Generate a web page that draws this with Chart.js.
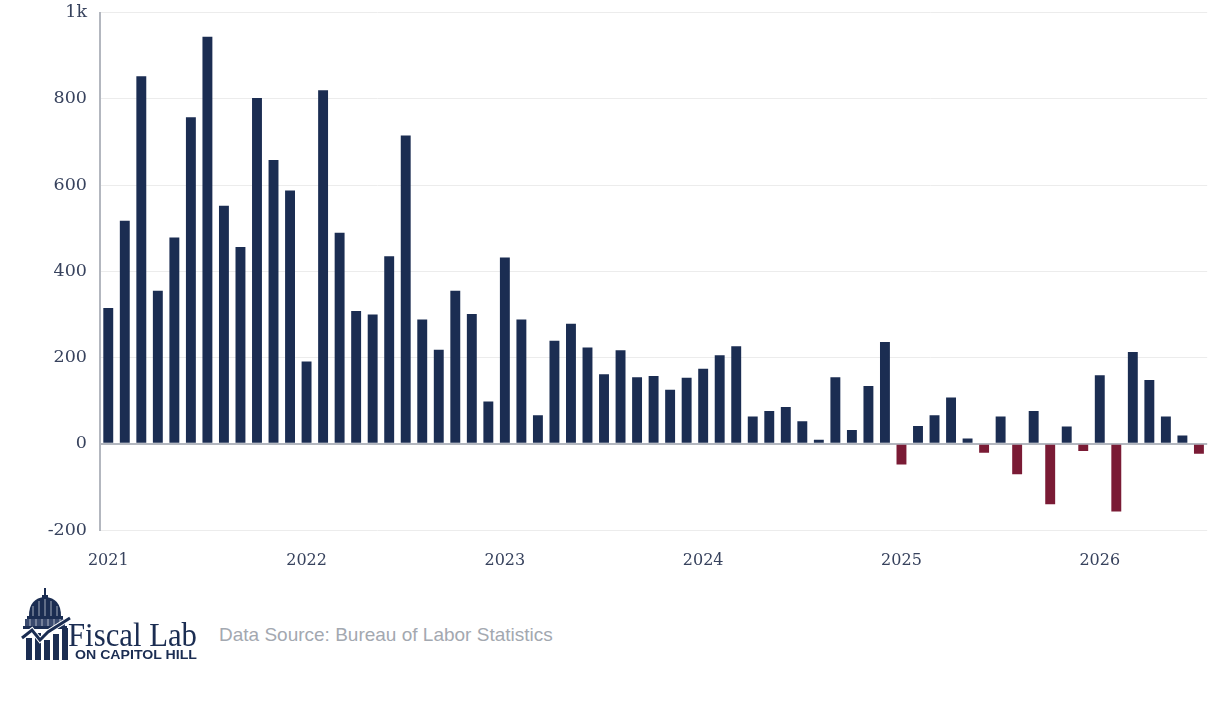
<!DOCTYPE html>
<html>
<head>
<meta charset="utf-8">
<script src="https://cdn.jsdelivr.net/npm/chart.js@4.4.0/dist/chart.umd.min.js"></script>
<style>
  html, body { margin: 0; padding: 0; background: #ffffff; width: 1220px; height: 716px; overflow: hidden; }
  #wrap { position: absolute; left: 0; top: -11px; width: 1220px; height: 601px; }
  #logo { position: absolute; left: 18px; top: 586px; }
  #source { position: absolute; left: 219px; top: 624px; font-family: "Liberation Sans", Arial, sans-serif; font-size: 19px; color: #a3a8b0; white-space: nowrap; }
</style>
</head>
<body>
<div id="wrap"><canvas id="c" width="1220" height="601"></canvas></div>
<svg id="logo" width="190" height="80" viewBox="0 0 190 80">
  <g fill="#1b2d52" stroke="none">
    <rect x="26" y="2" width="2" height="8"/>
    <rect x="24" y="9" width="6" height="3"/>
    <path d="M11 30 Q11 12 27 11 Q43 12 43 30 Z"/>
    <rect x="9" y="30" width="36" height="3"/>
    <rect x="7" y="33" width="40" height="7" fill="#3a4a6e"/>
    <rect x="5" y="40" width="44" height="3"/>
    <rect x="8" y="52" width="6" height="22"/>
    <rect x="17" y="47" width="6" height="27"/>
    <rect x="26" y="54" width="6" height="20"/>
    <rect x="35" y="48" width="6" height="26"/>
    <rect x="44" y="42" width="6" height="32"/>
  </g>
  <g stroke="#ffffff" stroke-width="1" opacity="0.6">
    <line x1="15" y1="20" x2="15" y2="30"/><line x1="21" y1="15" x2="21" y2="30"/><line x1="27" y1="13" x2="27" y2="30"/><line x1="33" y1="15" x2="33" y2="30"/><line x1="39" y1="20" x2="39" y2="30"/>
    <line x1="12" y1="33" x2="12" y2="40"/><line x1="18" y1="33" x2="18" y2="40"/><line x1="24" y1="33" x2="24" y2="40"/><line x1="30" y1="33" x2="30" y2="40"/><line x1="36" y1="33" x2="36" y2="40"/><line x1="42" y1="33" x2="42" y2="40"/>
  </g>
  <polyline points="4,52 14,44 22,54 30,46 52,32" fill="none" stroke="#ffffff" stroke-width="5"/>
  <polyline points="4,52 14,44 22,54 30,46 52,32" fill="none" stroke="#1b2d52" stroke-width="3"/>
  <text x="50" y="60" font-family="Liberation Serif, serif" font-size="34" fill="#1b2d52" textLength="129" lengthAdjust="spacingAndGlyphs">Fiscal Lab</text>
  <text x="57" y="73" font-family="Liberation Sans, Arial, sans-serif" font-weight="bold" font-size="12.5" fill="#1b2d52" textLength="122" lengthAdjust="spacingAndGlyphs">ON CAPITOL HILL</text>
</svg>
<div id="source">Data Source: Bureau of Labor Statistics</div>
<script>
// ---- data ----
const startYear = 2021;
const monthCount = 67; // Jan 2021 .. Jul 2026
const yearTicks = ["2021", "2022", "2023", "2024", "2025", "2026"];
const yTickValues = [-200, 0, 200, 400, 600, 800, 1000];
const changes = [
  315, 517, 852, 355, 478, 757, 944, 552, 456, 802, 658, 587,
  191, 820, 489, 308, 300, 435, 715, 288, 218, 355, 301, 98,
  432, 288, 66, 239, 278, 223, 161, 217, 154, 157, 125, 153,
  174, 205, 226, 63, 76, 85, 52, 9, 154, 32, 134, 236,
  -48, 41, 66, 107, 12, -21, 63, -71, 76, -140, 40, -17,
  159, -157, 213, 148, 63, 19, -23
];

const categories = [];
for (let i = 0; i < monthCount; i++) {
  const y = startYear + Math.floor(i / 12);
  const m = (i % 12) + 1;
  categories.push(y + "-" + String(m).padStart(2, "0"));
}

const NAVY = "#1b2d52";
const MAROON = "#7a1b35";
const TEXT = "#37425d";

new Chart(document.getElementById("c"), {
  type: "bar",
  data: {
    labels: categories,
    datasets: [{
      data: changes,
      backgroundColor: changes.map(v => v < 0 ? MAROON : NAVY),
      barPercentage: 0.6,
      categoryPercentage: 1.0,
      borderWidth: 0
    }]
  },
  options: {
    responsive: false,
    animation: false,
    devicePixelRatio: 1,
    layout: { padding: { left: 0, right: 10, top: 2, bottom: 0 } },
    plugins: { legend: { display: false }, tooltip: { enabled: false } },
    scales: {
      x: {
        type: "category",
        offset: true,
        grid: { display: false, drawTicks: false },
        border: { display: false },
        afterFit: s => { s.height = 60; },
        ticks: {
          autoSkip: false,
          maxRotation: 0,
          padding: 21,
          color: TEXT,
          font: { family: "DejaVu Serif", size: 16 },
          callback: function (val, idx) {
            const lab = categories[idx];
            if (lab.endsWith("-01")) {
              const yr = lab.slice(0, 4);
              return yearTicks.includes(yr) ? yr : "";
            }
            return "";
          }
        }
      },
      y: {
        min: -200,
        max: 1000,
        afterFit: s => { s.width = 100; },
        afterBuildTicks: s => { s.ticks = yTickValues.map(v => ({ value: v })); },
        grid: {
          drawTicks: false,
          color: ctx => (ctx.tick && ctx.tick.value === 0) ? "#b3b7bf" : "#ececec",
          lineWidth: ctx => (ctx.tick && ctx.tick.value === 0) ? 2 : 1
        },
        border: { display: true, color: "#b3b7bf", width: 2 },
        ticks: {
          padding: 13,
          color: TEXT,
          font: { family: "DejaVu Serif", size: 17.5 },
          callback: v => v === 1000 ? "1k" : String(v)
        }
      }
    }
  }
});
</script>
</body>
</html>
